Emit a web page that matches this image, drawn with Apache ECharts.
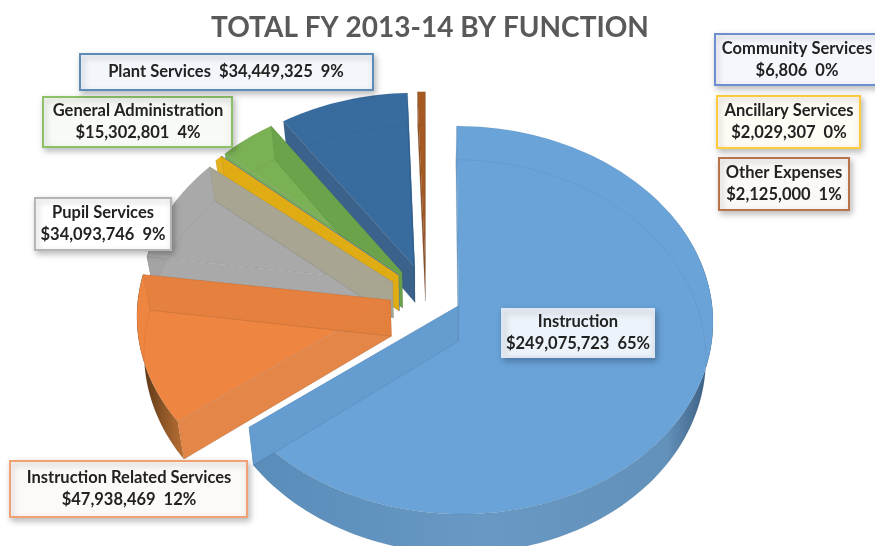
<!DOCTYPE html>
<html>
<head>
<meta charset="utf-8">
<style>html,body{margin:0;padding:0;background:#fff}#chart{width:875px;height:546px}</style>
<script src="https://cdn.jsdelivr.net/npm/echarts@6/dist/echarts.min.js"></script>
</head>
<body>
<div id="chart"></div>
<script>
// Budget by function, clockwise from twelve o'clock
const functions = ['Instruction', 'Instruction Related Services', 'Pupil Services', 'Ancillary Services',
  'Community Services', 'General Administration', 'Plant Services', 'Other Expenses'];
const amounts = [249075723, 47938469, 34093746, 2029307, 6806, 15302801, 34449325, 2125000];
const percentLabels = ['65%', '12%', '9%', '0%', '0%', '4%', '9%', '1%'];

// Slice colours: top face, leading wall, trailing wall, curved wall gradient
const topColors = ['#69a3d8', '#ee8540', '#a9a9a9', '#e9b012', '#6d8fcf', '#7ab155', '#386c9f', '#a65a22'];
const leadWalls = ['#67a0d5', '#e27f3d', '#a4a4a4', '#e0ac14', '#6d8fcf', '#72aa4f', '#2f5a85', '#8f4a18'];
const trailWalls = ['#659dd1', '#e4803e', '#a8a590', '#e0ac14', '#6d8fcf', '#6aa24b', '#34669a', '#7a3f14'];
const curveStops = [
  ['#38587a', '#6291ba', '#6899c4', '#5a8cba'],
  ['#4e2f14', '#7a4a20', '#a5642e', '#b87034'],
  ['#888888', '#9e9e9e', '#9e9e9e', '#9e9e9e'],
  ['#e0ac14', '#e0ac14', '#e0ac14', '#e0ac14'],
  ['#6d8fcf', '#6d8fcf', '#6d8fcf', '#6d8fcf'],
  ['#6aa24b', '#6aa24b', '#6aa24b', '#6aa24b'],
  ['#2f5a85', '#2f5a85', '#2f5a85', '#2f5a85'],
  ['#8f4a18', '#8f4a18', '#8f4a18', '#8f4a18']
];

// Callout boxes: x, y, width, height, border, fill, text centre
const callouts = [
  [502, 309, 152, 48, '#dce7f3', '#edf3fa', 578],
  [10, 461, 237, 56, '#f0a274', '#fdf9f6', 129],
  [35, 198, 136, 52, '#b5b5b5', '#ffffff', 103],
  [717, 96, 143, 52, '#ffca3c', '#fefcf5', 789],
  [715, 34, 175, 51, '#6d8fcf', '#f5f7fc', 797],
  [43, 97, 189, 50, '#8cc168', '#f8faf6', 138],
  [80, 54, 293, 36, '#5b8db8', '#f3f6fa', 226],
  [719, 158, 130, 52, '#b8734a', '#fbf8f5', 784]
];

// Projection of the tilted, exploded pie
const view = { cx: 426, cy: 293, rx: 252, ry: 191, k: 0.0754, depth: 36, shrink: 0.025, explode: 0.145 };
const total = amounts.reduce((a, b) => a + b, 0);
const TAU = Math.PI * 2;
const angles = [];
amounts.reduce((sum, v) => {
  angles.push([sum / total * TAU, (sum + v) / total * TAU]);
  return sum + v;
}, 0);

function slicePoints(index) {
  const [a0, a1] = angles[index];
  const mid = (a0 + a1) / 2;
  const ex = view.explode * Math.sin(mid);
  const ey = -view.explode * Math.cos(mid);
  const at = (th, r, z) => {
    const X = ex + r * Math.sin(th);
    const Y = ey - r * Math.cos(th);
    const w = 1 / (1 - view.k * Y);
    const s = 1 - view.shrink * z / view.depth;
    return [view.cx + view.rx * X * w * s, view.cy + (view.ry * Y + z) * w];
  };
  const arc = (from, to, z) => {
    const n = Math.max(2, Math.ceil((to - from) / 0.03));
    const pts = [];
    for (let i = 0; i <= n; i++) pts.push(at(from + (to - from) * i / n, 1, z));
    return pts;
  };
  return { at, arc, a0, a1 };
}

function renderSlice(params, api) {
  const i = api.value(0);
  const { at, arc, a0, a1 } = slicePoints(i);
  const d = view.depth;
  const apexTop = at(0, 0, 0);
  const apexBot = at(0, 0, d);
  const edge = { stroke: 'rgba(40,40,40,0.06)', lineWidth: 1 };
  const poly = (points, style) => ({ type: 'polygon', shape: { points }, style, silent: true });
  const children = [];

  // curved outer wall, tucked under the top face
  const f0 = Math.max(a0, Math.PI / 3);
  const f1 = Math.min(a1, Math.PI * 1.6);
  if (f1 > f0) {
    const s = curveStops[i];
    const toLeft = i === 0;
    const fill = new echarts.graphic.LinearGradient(toLeft ? 1 : 0, 0, toLeft ? 0 : 1, 0, [
      { offset: 0, color: s[0] },
      { offset: toLeft ? 0.1 : 0.4, color: s[1] },
      { offset: toLeft ? 0.5 : 0.8, color: s[2] },
      { offset: 1, color: s[3] }
    ]);
    children.push(poly(arc(f0, f1, 0).concat(arc(f0, f1, d).reverse()), { fill }));
  }
  // top face
  children.push(poly([apexTop].concat(arc(a0, a1, 0)), Object.assign({ fill: topColors[i] }, edge)));
  // radial walls show through the face
  children.push(poly([apexTop, at(a0, 1, 0), at(a0, 1, d), apexBot],
    Object.assign({ fill: leadWalls[i], opacity: 0.95 }, edge)));
  children.push(poly([apexTop, at(a1, 1, 0), at(a1, 1, d), apexBot],
    Object.assign({ fill: trailWalls[i], opacity: 0.95 }, edge)));
  // outline of the underside
  children.push(poly([apexBot].concat(arc(a0, a1, d)), Object.assign({ fill: 'none' }, edge)));
  return { type: 'group', children };
}

function calloutElements() {
  const els = [];
  functions.forEach((name, i) => {
    const [x, y, w, h, border, fill, tx] = callouts[i];
    els.push({
      type: 'rect', z: 10,
      shape: { x, y, width: w, height: h },
      style: { fill, stroke: border, lineWidth: 2,
        shadowBlur: 6, shadowOffsetX: 2, shadowOffsetY: 3, shadowColor: 'rgba(0,0,0,0.25)' }
    });
    const money = '$' + amounts[i].toLocaleString('en-US');
    const singleLine = name === 'Plant Services';
    els.push({
      type: 'text', z: 11,
      style: {
        x: tx, y: y + h / 2,
        text: singleLine ? name + '  ' + money + '  ' + percentLabels[i]
                         : name + '\n' + money + '  ' + percentLabels[i],
        align: 'center', verticalAlign: 'middle', lineHeight: 22,
        font: 'bold 16.5px Lato, "Open Sans", sans-serif', fill: '#222222'
      }
    });
  });
  return els;
}

const chart = echarts.init(document.getElementById('chart'));
chart.setOption({
  animation: false,
  backgroundColor: '#ffffff',
  title: {
    text: 'TOTAL FY 2013-14 BY FUNCTION',
    left: 425, top: 9, textAlign: 'center',
    textStyle: { fontFamily: 'Lato, "Open Sans", sans-serif', fontWeight: 'bold', fontSize: 28, color: '#595959' }
  },
  series: [{
    type: 'custom',
    coordinateSystem: 'none',
    renderItem: renderSlice,
    // painted back to front
    data: [7, 6, 5, 4, 3, 2, 1, 0].map(i => ({ name: functions[i], value: [i, amounts[i]] }))
  }],
  graphic: { elements: calloutElements() }
});
</script>
</body>
</html>
